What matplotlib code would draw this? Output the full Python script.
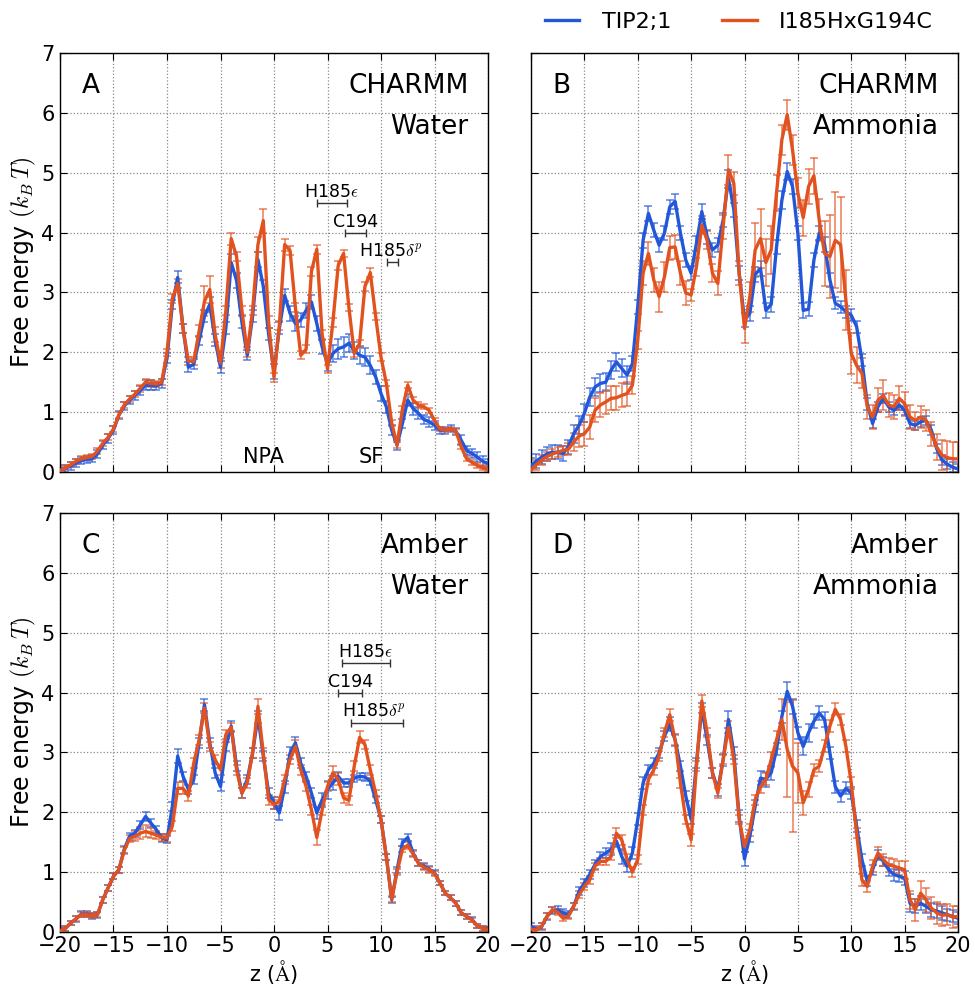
import numpy as np
import matplotlib
matplotlib.use("Agg")
import matplotlib.pyplot as plt
from matplotlib.lines import Line2D

plt.rcParams['mathtext.fontset'] = 'cm'
plt.rcParams['font.family'] = ['DejaVu Sans']

z = np.arange(-20, 20.01, 0.5)

series_names = ["TIP2;1", "I185HxG194C"]
colors = ["#2257d9", "#e2521f"]

# ---------------- Panel A: CHARMM / Water ----------------
A_tip = [0.03, 0.06, 0.10, 0.15, 0.19, 0.21, 0.22, 0.30, 0.45, 0.56, 0.70, 0.95, 1.10, 1.20, 1.28, 1.36, 1.45, 1.45, 1.44, 1.48,
         1.90, 2.80, 3.25, 2.40, 1.75, 1.80, 2.20, 2.60, 2.80, 2.20, 1.75, 2.40, 3.50, 3.20, 2.50, 1.95, 2.60, 3.55, 3.10, 2.30,
         1.68, 2.40, 2.95, 2.65, 2.48, 2.54, 2.70, 2.84, 2.48, 2.09, 1.81, 1.98, 2.06, 2.09, 2.15, 2.03, 1.95, 1.92, 1.78, 1.59,
         1.31, 1.09, 0.70, 0.45, 0.81, 1.20, 1.06, 0.98, 0.88, 0.84, 0.78, 0.70, 0.70, 0.72, 0.68, 0.53, 0.36, 0.31, 0.25, 0.18, 0.14]
A_mut = [0.02, 0.07, 0.12, 0.18, 0.22, 0.24, 0.26, 0.35, 0.48, 0.58, 0.72, 0.95, 1.12, 1.22, 1.30, 1.40, 1.50, 1.48, 1.47, 1.50,
         2.00, 2.90, 3.15, 2.40, 1.85, 1.85, 2.35, 2.85, 3.05, 2.30, 1.82, 2.70, 3.90, 3.60, 2.70, 2.00, 2.70, 3.80, 4.20, 2.50,
         1.58, 2.45, 3.80, 3.70, 2.75, 1.95, 2.05, 3.35, 3.72, 2.30, 1.72, 2.50, 3.45, 3.65, 2.75, 1.98, 2.15, 3.10, 3.33, 2.60,
         1.92, 1.48, 0.82, 0.45, 1.05, 1.45, 1.20, 1.12, 1.09, 1.03, 0.86, 0.72, 0.70, 0.72, 0.68, 0.42, 0.22, 0.16, 0.11, 0.07, 0.04]
A_tip_err = [0.06, 0.06, 0.06, 0.06, 0.06, 0.06, 0.06, 0.06, 0.06, 0.07, 0.07, 0.07, 0.07, 0.07, 0.07, 0.08, 0.08, 0.08, 0.07, 0.07,
             0.08, 0.08, 0.10, 0.08, 0.08, 0.08, 0.08, 0.10, 0.12, 0.10, 0.10, 0.10, 0.15, 0.12, 0.10, 0.08, 0.10, 0.12, 0.10, 0.10,
             0.12, 0.10, 0.10, 0.12, 0.12, 0.12, 0.12, 0.12, 0.12, 0.12, 0.12, 0.15, 0.17, 0.17, 0.15, 0.15, 0.15, 0.15, 0.15, 0.12,
             0.12, 0.10, 0.08, 0.08, 0.08, 0.10, 0.10, 0.10, 0.08, 0.08, 0.07, 0.06, 0.06, 0.06, 0.06, 0.08, 0.08, 0.08, 0.08, 0.08, 0.08]
A_mut_err = [0.04, 0.04, 0.04, 0.04, 0.04, 0.04, 0.04, 0.05, 0.05, 0.05, 0.05, 0.05, 0.05, 0.05, 0.05, 0.06, 0.06, 0.06, 0.05, 0.05,
             0.06, 0.08, 0.08, 0.08, 0.07, 0.07, 0.10, 0.25, 0.22, 0.12, 0.08, 0.08, 0.10, 0.08, 0.08, 0.08, 0.08, 0.12, 0.20, 0.10,
             0.07, 0.08, 0.10, 0.08, 0.08, 0.07, 0.07, 0.08, 0.08, 0.07, 0.06, 0.07, 0.07, 0.06, 0.06, 0.06, 0.06, 0.07, 0.07, 0.06,
             0.06, 0.05, 0.05, 0.05, 0.05, 0.05, 0.05, 0.05, 0.04, 0.04, 0.04, 0.04, 0.04, 0.04, 0.04, 0.04, 0.04, 0.04, 0.04, 0.04, 0.04]

# ---------------- Panel B: CHARMM / Ammonia ----------------
B_tip = [0.11, 0.18, 0.25, 0.30, 0.33, 0.33, 0.31, 0.42, 0.64, 0.78, 0.98, 1.25, 1.42, 1.48, 1.50, 1.70, 1.84, 1.73, 1.62, 1.81,
         2.76, 3.87, 4.32, 4.04, 3.79, 3.99, 4.43, 4.52, 3.99, 3.54, 3.32, 3.82, 4.35, 3.93, 3.71, 3.79, 4.21, 4.90, 4.38, 3.32,
         2.54, 2.65, 3.30, 3.40, 2.70, 2.80, 3.76, 4.54, 5.02, 4.77, 3.99, 2.70, 2.72, 3.54, 3.99, 3.80, 3.21, 2.82, 2.76, 2.68,
         2.62, 2.43, 1.87, 1.14, 0.81, 1.09, 1.23, 1.09, 1.03, 1.12, 1.03, 0.81, 0.78, 0.84, 0.86, 0.70, 0.39, 0.20, 0.13, 0.08, 0.05]
B_mut = [0.03, 0.12, 0.20, 0.26, 0.30, 0.33, 0.36, 0.38, 0.50, 0.60, 0.64, 0.75, 1.03, 1.12, 1.17, 1.23, 1.24, 1.28, 1.31, 1.45,
         2.20, 3.32, 3.65, 3.21, 2.93, 3.26, 3.75, 3.76, 3.32, 2.99, 2.96, 3.43, 4.12, 3.87, 3.32, 3.15, 4.10, 5.05, 4.82, 3.32,
         2.40, 2.93, 3.71, 3.90, 3.50, 3.71, 4.66, 5.55, 5.97, 5.38, 4.66, 4.25, 4.77, 4.95, 4.21, 3.65, 3.60, 3.87, 3.80, 2.87,
         1.98, 1.78, 1.65, 1.09, 0.92, 1.20, 1.28, 1.12, 1.09, 1.23, 1.14, 0.92, 0.86, 0.92, 0.86, 0.64, 0.42, 0.28, 0.24, 0.22, 0.22]
B_tip_err = [0.12, 0.12, 0.12, 0.12, 0.12, 0.12, 0.12, 0.12, 0.15, 0.15, 0.15, 0.15, 0.15, 0.15, 0.15, 0.15, 0.15, 0.15, 0.15, 0.12,
             0.12, 0.12, 0.12, 0.12, 0.12, 0.12, 0.12, 0.12, 0.12, 0.12, 0.12, 0.12, 0.12, 0.12, 0.12, 0.12, 0.12, 0.15, 0.12, 0.12,
             0.12, 0.12, 0.12, 0.12, 0.12, 0.12, 0.12, 0.15, 0.15, 0.12, 0.12, 0.12, 0.12, 0.12, 0.12, 0.12, 0.12, 0.10, 0.10, 0.10,
             0.10, 0.10, 0.10, 0.10, 0.08, 0.08, 0.08, 0.08, 0.08, 0.08, 0.08, 0.08, 0.08, 0.08, 0.08, 0.08, 0.08, 0.08, 0.08, 0.08, 0.08]
B_mut_err = [0.08, 0.08, 0.08, 0.08, 0.08, 0.08, 0.08, 0.10, 0.15, 0.18, 0.20, 0.20, 0.20, 0.20, 0.20, 0.20, 0.20, 0.20, 0.20, 0.15,
             0.15, 0.20, 0.20, 0.20, 0.25, 0.25, 0.20, 0.20, 0.20, 0.20, 0.10, 0.15, 0.15, 0.15, 0.15, 0.20, 0.20, 0.25, 0.20, 0.20,
             0.25, 0.25, 0.45, 0.50, 0.40, 0.40, 0.30, 0.25, 0.25, 0.25, 0.25, 0.30, 0.30, 0.30, 0.35, 0.55, 0.70, 0.80, 0.80, 0.50,
             0.35, 0.30, 0.25, 0.20, 0.20, 0.20, 0.25, 0.20, 0.20, 0.20, 0.20, 0.20, 0.15, 0.18, 0.18, 0.20, 0.22, 0.25, 0.28, 0.28, 0.28]

# ---------------- Panel C: Amber / Water ----------------
C_tip = [0.02, 0.06, 0.15, 0.22, 0.30, 0.30, 0.27, 0.29, 0.54, 0.74, 0.93, 1.04, 1.38, 1.60, 1.65, 1.79, 1.93, 1.82, 1.71, 1.57,
         1.54, 2.10, 2.94, 2.60, 2.38, 2.55, 3.16, 3.80, 3.16, 2.66, 2.43, 3.10, 3.44, 2.77, 2.32, 2.55, 2.99, 3.60, 2.94, 2.32,
         2.16, 1.99, 2.43, 2.99, 3.16, 2.82, 2.60, 2.32, 1.99, 2.21, 2.38, 2.49, 2.60, 2.49, 2.49, 2.57, 2.60, 2.59, 2.52, 2.21,
         1.88, 1.26, 0.54, 1.04, 1.49, 1.58, 1.32, 1.15, 1.10, 1.05, 0.99, 0.82, 0.65, 0.57, 0.48, 0.32, 0.26, 0.21, 0.10, 0.06, 0.05]
C_mut = [0.02, 0.06, 0.15, 0.22, 0.29, 0.29, 0.27, 0.29, 0.54, 0.74, 0.93, 1.04, 1.36, 1.56, 1.60, 1.65, 1.68, 1.65, 1.62, 1.58,
         1.57, 1.77, 2.40, 2.40, 2.27, 2.82, 3.21, 3.74, 3.10, 2.88, 2.71, 3.30, 3.42, 2.71, 2.32, 2.49, 2.99, 3.77, 2.99, 2.21,
         2.13, 2.18, 2.55, 2.88, 3.10, 2.71, 2.43, 2.04, 1.58, 2.04, 2.43, 2.66, 2.55, 2.24, 2.20, 2.77, 3.25, 3.13, 2.71, 2.32,
         1.88, 1.25, 0.55, 1.00, 1.38, 1.45, 1.30, 1.15, 1.08, 1.04, 0.98, 0.82, 0.65, 0.57, 0.48, 0.32, 0.26, 0.20, 0.10, 0.06, 0.04]
C_tip_err = [0.04, 0.04, 0.04, 0.05, 0.05, 0.05, 0.05, 0.05, 0.05, 0.05, 0.05, 0.05, 0.06, 0.06, 0.06, 0.07, 0.08, 0.07, 0.06, 0.06,
             0.06, 0.08, 0.12, 0.08, 0.08, 0.08, 0.08, 0.10, 0.08, 0.08, 0.08, 0.08, 0.08, 0.08, 0.08, 0.08, 0.08, 0.10, 0.08, 0.08,
             0.10, 0.12, 0.10, 0.10, 0.10, 0.08, 0.08, 0.08, 0.10, 0.12, 0.15, 0.12, 0.08, 0.06, 0.06, 0.06, 0.06, 0.06, 0.06, 0.06,
             0.06, 0.05, 0.05, 0.05, 0.06, 0.06, 0.05, 0.05, 0.05, 0.05, 0.04, 0.04, 0.04, 0.04, 0.04, 0.04, 0.04, 0.04, 0.04, 0.04, 0.04]
C_mut_err = [0.04, 0.04, 0.04, 0.04, 0.04, 0.04, 0.04, 0.04, 0.05, 0.05, 0.05, 0.05, 0.06, 0.06, 0.08, 0.10, 0.10, 0.08, 0.06, 0.06,
             0.06, 0.08, 0.10, 0.10, 0.08, 0.08, 0.08, 0.08, 0.08, 0.08, 0.08, 0.08, 0.08, 0.08, 0.08, 0.08, 0.08, 0.12, 0.08, 0.08,
             0.08, 0.08, 0.08, 0.08, 0.10, 0.08, 0.08, 0.08, 0.12, 0.08, 0.08, 0.12, 0.10, 0.08, 0.08, 0.08, 0.10, 0.08, 0.08, 0.06,
             0.06, 0.05, 0.05, 0.05, 0.05, 0.06, 0.05, 0.05, 0.05, 0.05, 0.04, 0.04, 0.04, 0.04, 0.04, 0.04, 0.04, 0.04, 0.04, 0.04, 0.04]

# ---------------- Panel D: Amber / Ammonia ----------------
D_tip = [0.09, 0.04, 0.09, 0.26, 0.36, 0.37, 0.32, 0.29, 0.43, 0.68, 0.82, 0.96, 1.13, 1.26, 1.32, 1.38, 1.52, 1.26, 1.10, 1.32,
         1.88, 2.49, 2.71, 2.82, 2.99, 3.27, 3.47, 3.21, 2.77, 2.27, 1.88, 2.82, 3.74, 3.21, 2.66, 2.38, 2.88, 3.55, 2.99, 1.93,
         1.22, 1.60, 2.10, 2.57, 2.55, 2.66, 3.05, 3.60, 4.02, 3.77, 3.33, 3.10, 3.33, 3.52, 3.66, 3.55, 2.99, 2.43, 2.27, 2.40,
         2.32, 1.77, 1.21, 0.85, 1.04, 1.29, 1.18, 1.04, 0.96, 0.93, 0.90, 0.48, 0.43, 0.48, 0.43, 0.37, 0.35, 0.32, 0.29, 0.26, 0.23]
D_mut = [0.05, 0.03, 0.10, 0.26, 0.37, 0.33, 0.23, 0.26, 0.43, 0.62, 0.76, 0.87, 1.10, 1.18, 1.18, 1.26, 1.65, 1.54, 1.21, 1.00,
         1.21, 2.04, 2.55, 2.71, 2.94, 3.33, 3.63, 3.21, 2.49, 1.88, 1.54, 2.77, 3.86, 3.33, 2.66, 2.32, 2.88, 3.42, 2.88, 1.88,
         1.43, 1.71, 2.21, 2.43, 2.55, 2.88, 3.21, 3.55, 3.05, 2.77, 2.66, 2.16, 2.38, 2.71, 2.77, 3.10, 3.44, 3.72, 3.55, 3.10,
         2.49, 1.65, 0.87, 0.76, 1.10, 1.32, 1.21, 1.12, 1.10, 1.07, 1.04, 0.54, 0.37, 0.65, 0.54, 0.40, 0.32, 0.28, 0.29, 0.25, 0.26]
D_tip_err = [0.06, 0.06, 0.06, 0.06, 0.06, 0.06, 0.06, 0.06, 0.06, 0.07, 0.07, 0.07, 0.07, 0.08, 0.08, 0.10, 0.10, 0.12, 0.10, 0.10,
             0.10, 0.10, 0.08, 0.08, 0.08, 0.08, 0.12, 0.10, 0.08, 0.08, 0.08, 0.08, 0.08, 0.08, 0.08, 0.10, 0.10, 0.15, 0.10, 0.10,
             0.12, 0.10, 0.10, 0.12, 0.12, 0.12, 0.10, 0.10, 0.15, 0.12, 0.10, 0.15, 0.15, 0.12, 0.12, 0.12, 0.10, 0.10, 0.10, 0.10,
             0.10, 0.10, 0.10, 0.08, 0.08, 0.08, 0.08, 0.10, 0.10, 0.10, 0.12, 0.15, 0.12, 0.12, 0.12, 0.12, 0.12, 0.12, 0.10, 0.10, 0.10]
D_mut_err = [0.05, 0.05, 0.05, 0.05, 0.05, 0.05, 0.05, 0.05, 0.05, 0.06, 0.06, 0.06, 0.06, 0.06, 0.06, 0.06, 0.08, 0.08, 0.10, 0.08,
             0.08, 0.08, 0.08, 0.08, 0.08, 0.08, 0.10, 0.08, 0.08, 0.08, 0.10, 0.08, 0.10, 0.08, 0.08, 0.08, 0.08, 0.10, 0.08, 0.08,
             0.10, 0.10, 0.08, 0.10, 0.10, 0.12, 0.15, 0.35, 0.80, 1.10, 0.50, 0.20, 0.12, 0.10, 0.10, 0.10, 0.10, 0.10, 0.10, 0.10,
             0.10, 0.08, 0.10, 0.10, 0.10, 0.10, 0.10, 0.12, 0.12, 0.12, 0.15, 0.15, 0.18, 0.20, 0.20, 0.18, 0.18, 0.18, 0.18, 0.18, 0.18]

panel_letters = ["A", "B", "C", "D"]
panel_titles = [("CHARMM", "Water"), ("CHARMM", "Ammonia"), ("Amber", "Water"), ("Amber", "Ammonia")]
panel_data = [(A_tip, A_tip_err, A_mut, A_mut_err),
              (B_tip, B_tip_err, B_mut, B_mut_err),
              (C_tip, C_tip_err, C_mut, C_mut_err),
              (D_tip, D_tip_err, D_mut, D_mut_err)]

# residue annotations: label, label x (left), label y (center), bar x-range, bar y
A_annot_labels = [r"H185$\epsilon$", "C194", r"H185$\delta^p$"]
A_annot_text_xy = [(2.8, 4.68), (5.5, 4.17), (7.9, 3.70)]
A_annot_bars = [(4.0, 6.8, 4.49), (6.63, 8.6, 4.0), (10.6, 11.6, 3.51)]
C_annot_labels = [r"H185$\epsilon$", "C194", r"H185$\delta^p$"]
C_annot_text_xy = [(6.0, 4.68), (5.08, 4.17), (6.4, 3.70)]
C_annot_bars = [(6.4, 10.8, 4.5), (6.0, 8.25, 4.0), (7.15, 12.1, 3.49)]
region_labels = ["NPA", "SF"]
region_x = [-1.0, 9.1]

fig = plt.figure(figsize=(9.75, 9.86), dpi=100)
W, H = 975.0, 986.0
boxes = [(60, 53, 488, 472), (531, 53, 958, 472), (60, 513, 488, 932), (531, 513, 958, 932)]
axes = []
for (l, t, r, b) in boxes:
    ax = fig.add_axes([l / W, 1 - b / H, (r - l) / W, (b - t) / H])
    axes.append(ax)

for i, ax in enumerate(axes):
    tip, tip_err, mut, mut_err = panel_data[i]
    for vals, errs, c in [(tip, tip_err, colors[0]), (mut, mut_err, colors[1])]:
        ax.errorbar(z, vals, yerr=errs, fmt='none', ecolor=c, elinewidth=1.1,
                    capsize=3.2, capthick=1.1, alpha=0.75, zorder=2)
        ax.plot(z, vals, color=c, lw=2.4, zorder=3, solid_joinstyle='round')
    ax.set_xlim(-20, 20)
    ax.set_ylim(0, 7)
    ax.set_xticks(np.arange(-20, 21, 5))
    ax.set_yticks(np.arange(0, 8, 1))
    ax.grid(True, linestyle=':', color='#888888', lw=0.9)
    ax.tick_params(direction='in', top=True, right=True, length=5, width=0.8, labelsize=15, pad=4)
    ax.tick_params(axis='x', pad=3)
    for s in ax.spines.values():
        s.set_linewidth(1.0)
    if i in (0, 1):
        ax.tick_params(labelbottom=False)
    else:
        ax.set_xlabel(r"z ($\mathrm{\AA}$)", fontsize=15, labelpad=1)
    if i in (1, 3):
        ax.tick_params(labelleft=False)
    else:
        ax.set_ylabel(r"Free energy $(k_B\,T)$", fontsize=17, labelpad=2)
    ax.text(0.05, 0.921, panel_letters[i], transform=ax.transAxes, fontsize=19,
            ha='left', va='center')
    ax.text(0.955, 0.921, panel_titles[i][0], transform=ax.transAxes, fontsize=19,
            ha='right', va='center')
    ax.text(0.955, 0.823, panel_titles[i][1], transform=ax.transAxes, fontsize=19,
            ha='right', va='center')

for ax, labels, txy, bars in [(axes[0], A_annot_labels, A_annot_text_xy, A_annot_bars),
                              (axes[2], C_annot_labels, C_annot_text_xy, C_annot_bars)]:
    for lab, (tx, ty), (x0, x1, yb) in zip(labels, txy, bars):
        ax.text(tx, ty, lab, fontsize=12.5, ha='left', va='center', zorder=5)
        ax.errorbar([(x0 + x1) / 2], [yb], xerr=[(x1 - x0) / 2], fmt='none', ecolor='#333333',
                    elinewidth=1.0, capsize=3, capthick=1.0, zorder=5)

for lab, xr in zip(region_labels, region_x):
    axes[0].text(xr, 0.25, lab, fontsize=15, ha='center', va='center', zorder=5)

handles = [Line2D([], [], color=c, lw=2.4) for c in colors]
fig.legend(handles, series_names, loc='center left', bbox_to_anchor=(545 / W, 1 - 22 / H),
           ncol=2, frameon=False, fontsize=16, borderpad=0, borderaxespad=0, handlelength=1.55,
           handletextpad=1.0, columnspacing=2.3)

fig.savefig("out.png", dpi=100)
